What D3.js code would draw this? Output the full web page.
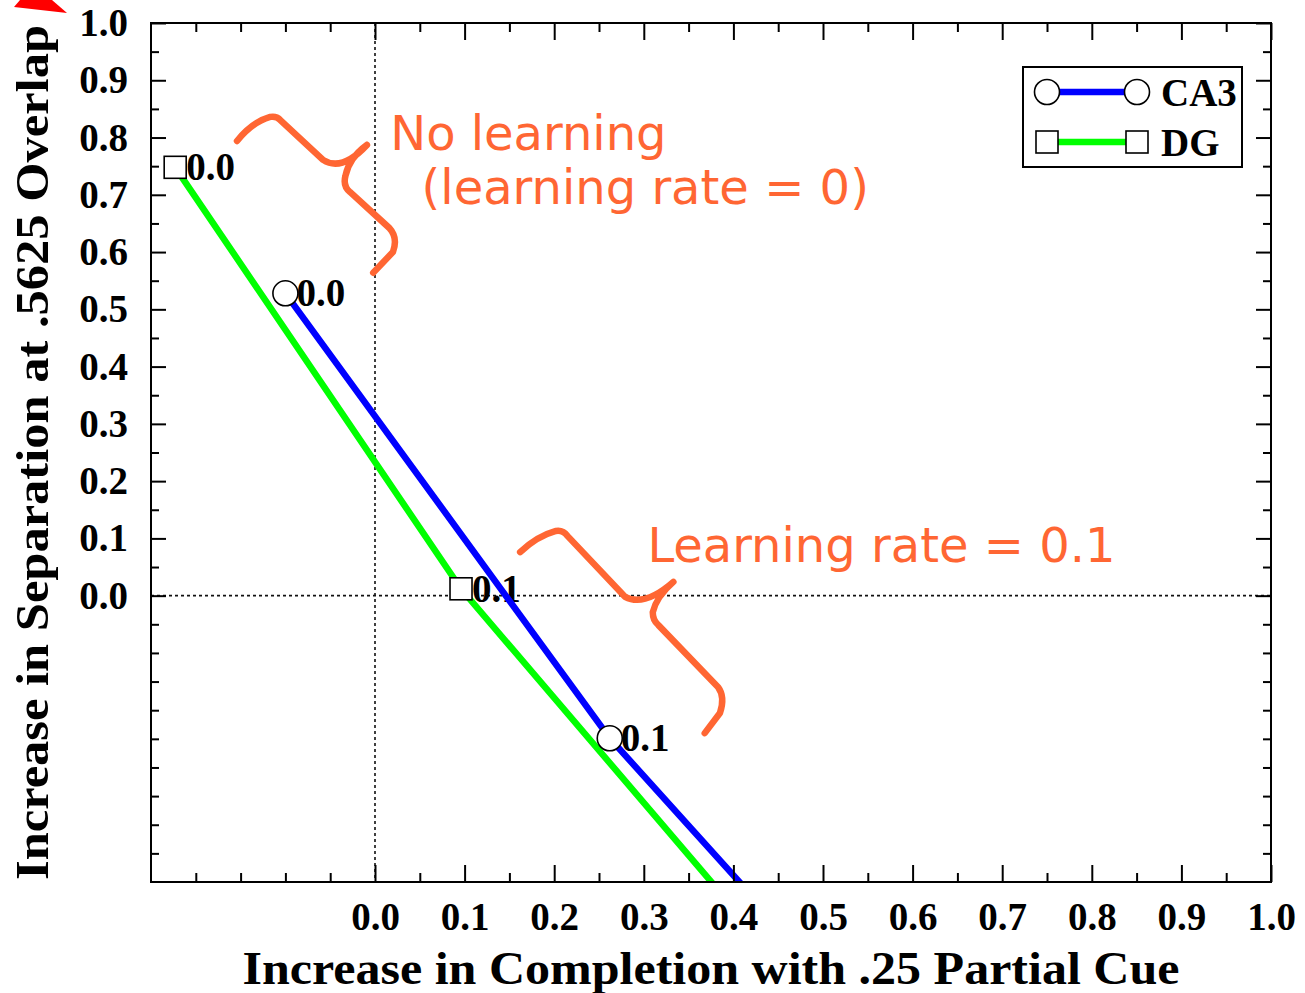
<!DOCTYPE html>
<html>
<head>
<meta charset="utf-8">
<script src="https://cdn.jsdelivr.net/npm/d3@7"></script>
<style>
  body { margin: 0; background: #fff; }
  svg { display: block; }
</style>
</head>
<body>
<svg id="chart" width="1305" height="993"></svg>
<script>
// ---- data ----
const seriesNames = ["CA3", "DG"];
const learningRates = ["0.0", "0.1"];           // labels of the first two points of each run
const ca3X = [-0.100, 0.262, 0.476];
const ca3Y = [0.528, -0.249, -0.620];
const dgX = [-0.223, 0.096, 0.441];
const dgY = [0.748, 0.012, -0.620];
const xTickValues = [0.0, 0.1, 0.2, 0.3, 0.4, 0.5, 0.6, 0.7, 0.8, 0.9, 1.0];
const xTickLabels = ["0.0", "0.1", "0.2", "0.3", "0.4", "0.5", "0.6", "0.7", "0.8", "0.9", "1.0"];
const yTickValues = [0.0, 0.1, 0.2, 0.3, 0.4, 0.5, 0.6, 0.7, 0.8, 0.9, 1.0];
const yTickLabels = ["0.0", "0.1", "0.2", "0.3", "0.4", "0.5", "0.6", "0.7", "0.8", "0.9", "1.0"];
const xMinorTicks = [-0.2, -0.15, -0.1, -0.05, 0.05, 0.15, 0.25, 0.35, 0.45, 0.55, 0.65, 0.75, 0.85, 0.95];
const yMinorTicks = [-0.45, -0.4, -0.35, -0.3, -0.25, -0.2, -0.15, -0.1, -0.05,
                     0.05, 0.15, 0.25, 0.35, 0.45, 0.55, 0.65, 0.75, 0.85, 0.95];
const xTitle = "Increase in Completion with .25 Partial Cue";
const yTitle = "Increase in Separation at .5625 Overlap";

// annotation text (data units)
const noteTexts = ["No learning", "(learning rate = 0)", "Learning rate = 0.1"];
const noteX = [0.017, 0.052, 0.304];
const noteY = [0.778, 0.684, 0.059];

// hand-drawn braces, path commands in data units
const brace1 = [
  ["M", -0.154, 0.794], ["Q", -0.137, 0.827, -0.117, 0.836], ["Q", -0.110, 0.838, -0.106, 0.831],
  ["L", -0.058, 0.761], ["Q", -0.037, 0.740, -0.009, 0.787],
  ["M", -0.009, 0.787], ["Q", -0.029, 0.764, -0.033, 0.733], ["Q", -0.036, 0.715, -0.028, 0.705],
  ["L", 0.016, 0.642], ["Q", 0.026, 0.625, 0.020, 0.600], ["L", -0.002, 0.564]
];
const brace2 = [
  ["M", 0.162, 0.076], ["Q", 0.181, 0.104, 0.202, 0.113], ["Q", 0.210, 0.115, 0.215, 0.104],
  ["L", 0.279, -0.002], ["Q", 0.301, -0.020, 0.333, 0.024],
  ["M", 0.333, 0.024], ["Q", 0.314, -0.002, 0.310, -0.029], ["Q", 0.310, -0.043, 0.316, -0.051],
  ["L", 0.383, -0.160], ["Q", 0.391, -0.177, 0.385, -0.205], ["L", 0.368, -0.240]
];

// ---- layout ----
const plot = { left: 151, right: 1271, top: 23, bottom: 882 };
const serif = "'Liberation Serif', 'Times New Roman', Times, serif";
const sans = "'DejaVu Sans', Verdana, sans-serif";
const noteColor = "#ff6633";
const colors = { CA3: "#0000ff", DG: "#00ff00" };
const shapes = { CA3: "circle", DG: "square" };

const svg = d3.select("#chart");
const x = d3.scaleLinear().domain([-0.25, 1.0]).range([plot.left, plot.right]);
const y = d3.scaleLinear().domain([-0.5, 1.0]).range([plot.bottom, plot.top]);

svg.append("defs").append("clipPath").attr("id", "plot-clip")
  .append("rect")
  .attr("x", plot.left).attr("y", plot.top)
  .attr("width", plot.right - plot.left).attr("height", plot.bottom - plot.top);

// zero reference lines
svg.append("line")
  .attr("x1", x(0)).attr("x2", x(0)).attr("y1", plot.top).attr("y2", plot.bottom)
  .attr("stroke", "#111").attr("stroke-width", 1.6).attr("stroke-dasharray", "3,3");
svg.append("line")
  .attr("x1", plot.left).attr("x2", plot.right).attr("y1", y(0)).attr("y2", y(0))
  .attr("stroke", "#111").attr("stroke-width", 1.6).attr("stroke-dasharray", "3,3");

const series = [
  { name: "CA3", xs: ca3X, ys: ca3Y },
  { name: "DG", xs: dgX, ys: dgY }
].map(s => ({ ...s, pts: s.xs.map((v, i) => ({ x: v, y: s.ys[i], label: learningRates[i] })) }));

// point labels (learning rate)
series.forEach(s => {
  svg.append("g").selectAll("text")
    .data(s.pts.filter(p => p.label !== undefined))
    .join("text")
    .attr("x", p => x(p.x) + 11)
    .attr("y", p => y(p.y) + 13)
    .attr("font-family", serif).attr("font-weight", "bold").attr("font-size", 39)
    .attr("fill", "#000")
    .text(p => p.label);
});

// series lines
const lineGen = d3.line().x(p => x(p.x)).y(p => y(p.y));
const linesG = svg.append("g").attr("clip-path", "url(#plot-clip)");
series.slice().reverse().forEach(s => {
  linesG.append("path")
    .attr("d", lineGen(s.pts))
    .attr("fill", "none")
    .attr("stroke", colors[s.name])
    .attr("stroke-width", 6.5);
});

// open markers
function drawMarker(g, shape, cx, cy) {
  if (shape === "circle") {
    g.append("circle").attr("cx", cx).attr("cy", cy).attr("r", 12.5)
      .attr("fill", "#fff").attr("stroke", "#000").attr("stroke-width", 1.6);
  } else {
    g.append("rect").attr("x", cx - 11).attr("y", cy - 11).attr("width", 22).attr("height", 22)
      .attr("fill", "#fff").attr("stroke", "#000").attr("stroke-width", 1.6);
  }
}
const markG = svg.append("g").attr("clip-path", "url(#plot-clip)");
series.forEach(s => {
  s.pts.forEach(p => drawMarker(markG, shapes[s.name], x(p.x), y(p.y)));
});

// axes: ticks pointing inward on all four sides
const tickFont = sel => sel.selectAll("text")
  .attr("font-family", serif).attr("font-weight", "bold").attr("font-size", 39).attr("fill", "#000");
const styleAxis = sel => {
  sel.select(".domain").remove();
  sel.selectAll(".tick line").attr("stroke", "#000").attr("stroke-width", 2);
};

svg.append("g").attr("transform", `translate(0,${plot.bottom})`)
  .call(d3.axisBottom(x).tickValues(xTickValues).tickSize(-17).tickPadding(20)
    .tickFormat((d, i) => xTickLabels[i]))
  .call(styleAxis).call(tickFont);
svg.append("g").attr("transform", `translate(0,${plot.bottom})`)
  .call(d3.axisBottom(x).tickValues(xMinorTicks).tickSize(-9).tickFormat(""))
  .call(styleAxis);
svg.append("g").attr("transform", `translate(0,${plot.top})`)
  .call(d3.axisTop(x).tickValues(xTickValues).tickSize(-17).tickFormat(""))
  .call(styleAxis);
svg.append("g").attr("transform", `translate(0,${plot.top})`)
  .call(d3.axisTop(x).tickValues(xMinorTicks).tickSize(-9).tickFormat(""))
  .call(styleAxis);

svg.append("g").attr("transform", `translate(${plot.left},0)`)
  .call(d3.axisLeft(y).tickValues(yTickValues).tickSize(-15).tickPadding(23)
    .tickFormat((d, i) => yTickLabels[i]))
  .call(styleAxis).call(tickFont);
svg.append("g").attr("transform", `translate(${plot.left},0)`)
  .call(d3.axisLeft(y).tickValues(yMinorTicks).tickSize(-8).tickFormat(""))
  .call(styleAxis);
svg.append("g").attr("transform", `translate(${plot.right},0)`)
  .call(d3.axisRight(y).tickValues(yTickValues).tickSize(-15).tickFormat(""))
  .call(styleAxis);
svg.append("g").attr("transform", `translate(${plot.right},0)`)
  .call(d3.axisRight(y).tickValues(yMinorTicks).tickSize(-8).tickFormat(""))
  .call(styleAxis);

// frame
svg.append("rect")
  .attr("x", plot.left).attr("y", plot.top)
  .attr("width", plot.right - plot.left).attr("height", plot.bottom - plot.top)
  .attr("fill", "none").attr("stroke", "#000").attr("stroke-width", 2);

// axis titles
svg.append("text")
  .attr("x", (plot.left + plot.right) / 2).attr("y", 984)
  .attr("text-anchor", "middle")
  .attr("font-family", serif).attr("font-weight", "bold").attr("font-size", 46)
  .attr("textLength", 937).attr("lengthAdjust", "spacingAndGlyphs")
  .text(xTitle);
svg.append("text")
  .attr("transform", `translate(48,${(plot.top + plot.bottom) / 2}) rotate(-90)`)
  .attr("text-anchor", "middle")
  .attr("font-family", serif).attr("font-weight", "bold").attr("font-size", 46)
  .attr("textLength", 855).attr("lengthAdjust", "spacingAndGlyphs")
  .text(yTitle);

// legend
const legend = svg.append("g");
legend.append("rect")
  .attr("x", 1023).attr("y", 67).attr("width", 219).attr("height", 100)
  .attr("fill", "#fff").attr("stroke", "#000").attr("stroke-width", 2);
seriesNames.forEach((name, i) => {
  const ly = 92 + i * 50;
  legend.append("line")
    .attr("x1", 1047).attr("x2", 1137).attr("y1", ly).attr("y2", ly)
    .attr("stroke", colors[name]).attr("stroke-width", 6.5);
  drawMarker(legend, shapes[name], 1047, ly);
  drawMarker(legend, shapes[name], 1137, ly);
  legend.append("text")
    .attr("x", 1161).attr("y", ly + 14)
    .attr("font-family", serif).attr("font-weight", "bold").attr("font-size", 39)
    .text(name);
});

// annotations
function bracePath(cmds) {
  return cmds.map(c => {
    if (c[0] === "Q") return `Q${x(c[1])},${y(c[2])} ${x(c[3])},${y(c[4])}`;
    return `${c[0]}${x(c[1])},${y(c[2])}`;
  }).join(" ");
}
[brace1, brace2].forEach(b => {
  svg.append("path")
    .attr("d", bracePath(b))
    .attr("fill", "none").attr("stroke", noteColor)
    .attr("stroke-width", 6.5).attr("stroke-linecap", "round").attr("stroke-linejoin", "round");
});
noteTexts.forEach((t, i) => {
  svg.append("text")
    .attr("x", x(noteX[i])).attr("y", y(noteY[i]))
    .attr("font-family", sans).attr("font-size", 48).attr("fill", noteColor)
    .text(t);
});

// red pointer tip at the corner
svg.append("polygon")
  .attr("points", "20,0 52,0 67,13 14,7")
  .attr("fill", "#ff0000");
</script>
</body>
</html>
